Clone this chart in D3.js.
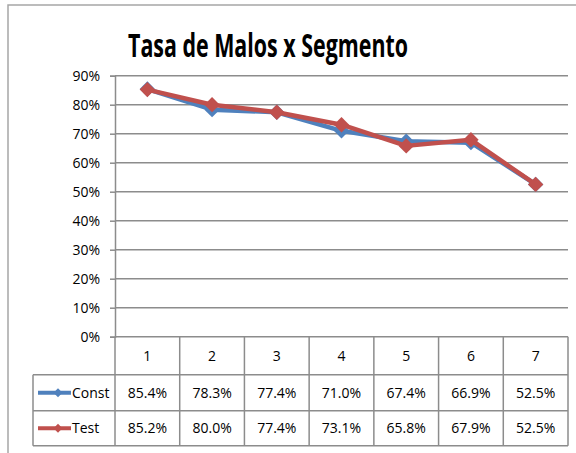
<!DOCTYPE html>
<html>
<head>
<meta charset="utf-8">
<script src="https://cdn.jsdelivr.net/npm/d3@7"></script>
<style>
  body { margin: 0; background: #fff; overflow: hidden; }
  svg { display: block; }
  svg text { font-family: 'Open Sans', sans-serif; fill: #000; }
</style>
</head>
<body>
<div id="chart"></div>
<script>
const segments = ['1', '2', '3', '4', '5', '6', '7'];
const constValues = [0.854, 0.783, 0.774, 0.710, 0.674, 0.669, 0.525];
const testValues = [0.852, 0.800, 0.774, 0.731, 0.658, 0.679, 0.525];
const yTicks = [0, 0.1, 0.2, 0.3, 0.4, 0.5, 0.6, 0.7, 0.8, 0.9];

const series = [
  { name: 'Const', values: constValues, color: '#4f81bd' },
  { name: 'Test', values: testValues, color: '#c0504d' }
];

const width = 576;
const height = 453;
const plotLeft = 115;
const plotRight = 568;
const plotTop = 75.7;
const plotBottom = 336.7;
const rowH = [38, 36, 35];
const legendLeft = 33;

const svg = d3.select('#chart')
  .append('svg')
  .attr('width', width)
  .attr('height', height)

// chart border
svg.append('rect')
   .attr('x', 8)
   .attr('y', 5)
   .attr('width', 600)
   .attr('height', 500)
   .attr('fill', 'none')
   .attr('stroke', '#a6a6a6')
   .attr('stroke-width', 1.5)

svg.append('text')
   .text('Tasa de Malos x Segmento')
   .attr('x', 268)
   .attr('y', 57)
   .attr('text-anchor', 'middle')
   .attr('textLength', 280)
   .attr('lengthAdjust', 'spacingAndGlyphs')
   .style('font-size', '33px')
   .style('font-weight', 'bold')

const xScale = d3.scaleBand()
                 .domain(segments)
                 .range([plotLeft, plotRight])

const yScale = d3.scaleLinear()
                 .domain([0, 0.9])
                 .range([plotBottom, plotTop])

// gridlines
svg.append('g')
   .selectAll('line')
   .data(yTicks)
   .enter()
   .append('line')
   .attr('x1', plotLeft)
   .attr('x2', plotRight)
   .attr('y1', d => yScale(d))
   .attr('y2', d => yScale(d))
   .attr('stroke', '#8c8c8c')
   .attr('stroke-width', 1.5)

const yAxis = d3.axisLeft(yScale)
                .tickValues(yTicks)
                .tickFormat(d3.format('.0%'))
                .tickSize(5)
                .tickPadding(10)

const yG = svg.append('g')
   .attr('id', 'y-axis')
   .attr('transform', 'translate(' + plotLeft + ', 0)')
   .call(yAxis)

yG.select('.domain').attr('stroke', '#8c8c8c').attr('stroke-width', 1.5)
yG.selectAll('.tick line').attr('stroke', '#8c8c8c').attr('stroke-width', 1.5)
yG.selectAll('.tick text')
  .style('font-size', '14px')
  .style('font-family', "'Open Sans', sans-serif")

const diamond = d3.symbol().type(d3.symbolDiamond2).size(150);

const line = d3.line()
               .x((d, i) => xScale(segments[i]) + xScale.bandwidth() / 2)
               .y(d => yScale(d))

series.forEach(s => {
  svg.append('path')
     .datum(s.values)
     .attr('d', line)
     .attr('fill', 'none')
     .attr('stroke', s.color)
     .attr('stroke-width', 4.5)
     .attr('stroke-linejoin', 'round')

  svg.append('g')
     .selectAll('path')
     .data(s.values)
     .enter()
     .append('path')
     .attr('d', diamond)
     .attr('transform', (d, i) => 'translate(' + (xScale(segments[i]) + xScale.bandwidth() / 2) + ',' + yScale(d) + ')')
     .attr('fill', s.color)
})

// data table
const table = svg.append('g').attr('id', 'data-table')
const rowY = [plotBottom, plotBottom + rowH[0], plotBottom + rowH[0] + rowH[1], plotBottom + rowH[0] + rowH[1] + rowH[2]];
const gridColor = '#8c8c8c';

// header row cells
table.selectAll('.head')
     .data(segments)
     .enter()
     .append('text')
     .text(d => d)
     .attr('x', d => xScale(d) + xScale.bandwidth() / 2)
     .attr('y', rowY[0] + rowH[0] / 2 + 5)
     .attr('text-anchor', 'middle')
     .style('font-size', '14px')

series.forEach((s, k) => {
  const yMid = rowY[k + 1] + rowH[k + 1] / 2;
  table.append('g')
       .selectAll('text')
       .data(s.values)
       .enter()
       .append('text')
       .text(d => d3.format('.1%')(d))
       .attr('x', (d, i) => xScale(segments[i]) + xScale.bandwidth() / 2)
       .attr('y', yMid + 5)
       .attr('text-anchor', 'middle')
       .style('font-size', '14px')

  // legend key
  table.append('line')
       .attr('x1', 38)
       .attr('x2', 71)
       .attr('y1', yMid)
       .attr('y2', yMid)
       .attr('stroke', s.color)
       .attr('stroke-width', 4)
  table.append('path')
       .attr('d', d3.symbol().type(d3.symbolDiamond2).size(50))
       .attr('transform', 'translate(58,' + yMid + ')')
       .attr('fill', s.color)
  table.append('text')
       .text(s.name)
       .attr('x', 72)
       .attr('y', yMid + 5)
       .style('font-size', '14px')
})

// table grid lines
const hLines = [
  [legendLeft, plotRight, rowY[1]],
  [legendLeft, plotRight, rowY[2]],
  [legendLeft, plotRight, rowY[3]]
];
table.selectAll('.hline')
     .data(hLines)
     .enter()
     .append('line')
     .attr('x1', d => d[0])
     .attr('x2', d => d[1])
     .attr('y1', d => d[2])
     .attr('y2', d => d[2])
     .attr('stroke', gridColor)
     .attr('stroke-width', 1.5)

const vx = segments.map(d => xScale(d)).concat([plotRight]);
table.selectAll('.vline')
     .data(vx)
     .enter()
     .append('line')
     .attr('x1', d => d)
     .attr('x2', d => d)
     .attr('y1', rowY[0])
     .attr('y2', rowY[3])
     .attr('stroke', gridColor)
     .attr('stroke-width', 1.5)

table.append('line')
     .attr('x1', legendLeft)
     .attr('x2', legendLeft)
     .attr('y1', rowY[1])
     .attr('y2', rowY[3])
     .attr('stroke', gridColor)
     .attr('stroke-width', 1.5)
</script>
</body>
</html>
